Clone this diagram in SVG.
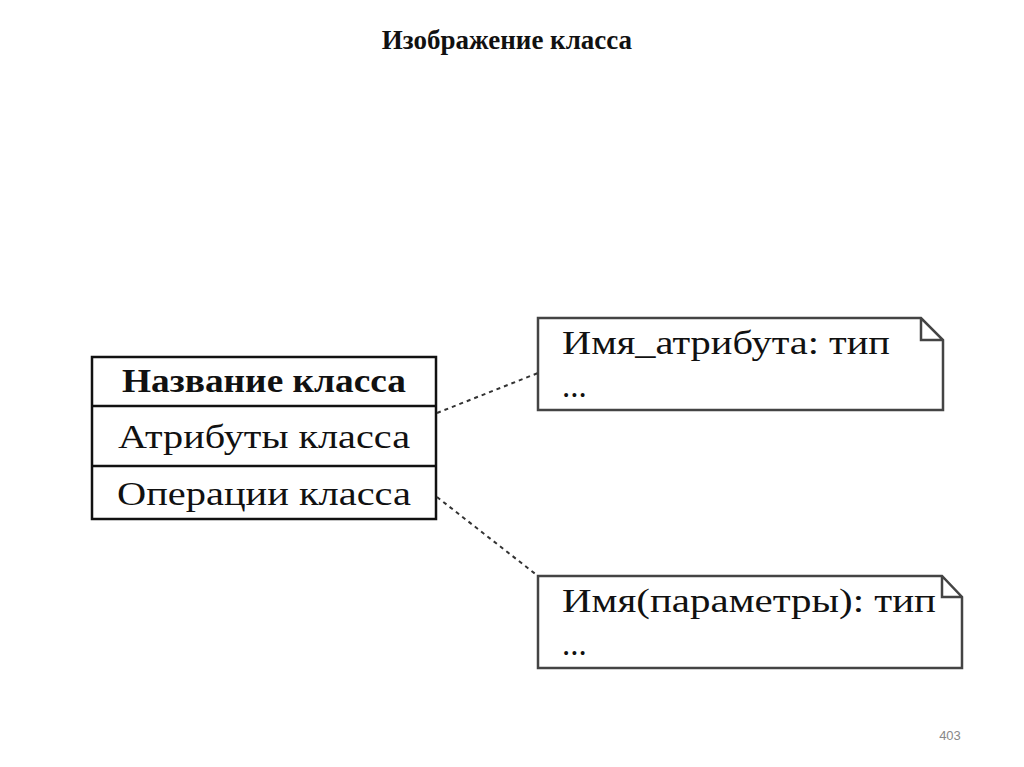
<svg xmlns="http://www.w3.org/2000/svg" width="1024" height="767" viewBox="0 0 1024 767">
<style>
text{font-family:"Liberation Serif","Times New Roman",serif;fill:#111}
.box{fill:#fff;stroke:#111;stroke-width:2.5}
.note{fill:#fff;stroke:#444;stroke-width:2.5}
.t{font-size:33px}
.c{stroke:#333;stroke-width:2;stroke-dasharray:4,4;fill:none}
</style>
<rect width="1024" height="767" fill="#fff"/>
<text x="507" y="49" text-anchor="middle" font-size="27" font-weight="bold">Изображение класса</text>
<g id="class">
<rect class="box" x="92" y="357" width="344" height="162"/>
<line class="box" x1="92" y1="406" x2="436" y2="406"/>
<line class="box" x1="92" y1="466" x2="436" y2="466"/>
<text class="t" x="264" y="392" text-anchor="middle" font-weight="bold" textLength="284" lengthAdjust="spacingAndGlyphs">Название класса</text>
<text class="t" x="264" y="448" text-anchor="middle" textLength="292" lengthAdjust="spacingAndGlyphs">Атрибуты класса</text>
<text class="t" x="264" y="505" text-anchor="middle" textLength="294" lengthAdjust="spacingAndGlyphs">Операции класса</text>
</g>
<g id="note1">
<path class="note" d="M538,318 H921 L943,340 V410 H538 Z M921,318 V340 H943"/>
<text class="t" x="562" y="354" textLength="328" lengthAdjust="spacingAndGlyphs">Имя_атрибута: тип</text>
<text class="t" x="562" y="397">...</text>
</g>
<g id="note2">
<path class="note" d="M538,576 H942 L962,597 V668 H538 Z M942,576 V597 H962"/>
<text class="t" x="562" y="612" textLength="374" lengthAdjust="spacingAndGlyphs">Имя(параметры): тип</text>
<text class="t" x="562" y="655">...</text>
</g>
<g id="connectors">
<line class="c" x1="437" y1="413" x2="538" y2="373"/>
<line class="c" x1="437" y1="497" x2="538" y2="576"/>
</g>
<text x="950" y="740" text-anchor="middle" font-size="13" style="font-family:'Liberation Sans',sans-serif;fill:#888">403</text>
</svg>
